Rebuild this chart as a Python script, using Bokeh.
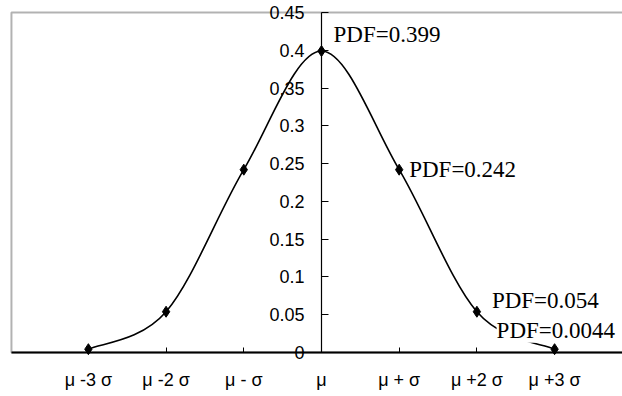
from bokeh.plotting import figure
from bokeh.models import FixedTicker, Label, Range1d, BoxAnnotation
from bokeh.embed import file_html
from bokeh.resources import INLINE

# ---- data ----
sigma = [-3, -2, -1, 0, 1, 2, 3]
pdf = [0.0044, 0.054, 0.242, 0.399, 0.242, 0.054, 0.0044]
x_tick_labels = ["\u03bc -3 \u03c3", "\u03bc -2 \u03c3", "\u03bc - \u03c3", "\u03bc",
                 "\u03bc + \u03c3", "\u03bc +2 \u03c3", "\u03bc +3 \u03c3"]
y_ticks = [0, 0.05, 0.1, 0.15, 0.2, 0.25, 0.3, 0.35, 0.4, 0.45]
y_tick_labels = ["0", "0.05", "0.1", "0.15", "0.2", "0.25", "0.3", "0.35", "0.4", "0.45"]
labelled_idx = [3, 4, 5, 6]
point_labels = ["PDF=0.399", "PDF=0.242", "PDF=0.054", "PDF=0.0044"]

# ---- layout constants (plot box) ----
X_START, X_END = -4.131, 3.874
Y_START, Y_END = -0.0582, 0.4659
BOX_LEFT = -3.99

p = figure(width=622, height=396, x_range=Range1d(X_START, X_END), y_range=Range1d(Y_START, Y_END),
           output_backend="svg", toolbar_location=None,
           min_border_left=0, min_border_right=0, min_border_top=0, min_border_bottom=0)
p.outline_line_color = None
p.grid.visible = False
p.background_fill_color = "white"

# plot box (top/left border; right side lies beyond the window)
p.add_layout(BoxAnnotation(left=BOX_LEFT, right=X_END + 5, bottom=y_ticks[0], top=y_ticks[-1],
                           fill_alpha=0, line_color="black", line_width=2, level="overlay"))

# y axis crossing at mu
ya = p.yaxis[0]
ya.fixed_location = 0
ya.bounds = (y_ticks[0], y_ticks[-1])
ya.ticker = FixedTicker(ticks=y_ticks)
ya.major_label_overrides = {t: s for t, s in zip(y_ticks, y_tick_labels)}
ya.major_tick_in = 7
ya.major_tick_out = 0
ya.minor_tick_in = 0
ya.minor_tick_out = 0
ya.axis_line_width = 1.2
ya.major_label_standoff = 17
ya.major_label_text_font = "Liberation Sans"
ya.major_label_text_font_size = "18px"
ya.major_label_text_color = "black"

# x axis at y = 0
xa = p.xaxis[0]
xa.fixed_location = 0
xa.bounds = (BOX_LEFT, X_END + 5)
xa.ticker = FixedTicker(ticks=sigma)
xa.major_label_overrides = {s: l for s, l in zip(sigma, x_tick_labels)}
xa.major_tick_in = 5
xa.major_tick_out = 0
xa.minor_tick_in = 0
xa.minor_tick_out = 0
xa.axis_line_width = 2
xa.major_label_standoff = 17
xa.major_label_text_font = "Liberation Sans"
xa.major_label_text_font_size = "18px"
xa.major_label_text_color = "black"

# smooth curve (Excel-style cubic Bezier through the points)
n = len(sigma)
x0s, y0s, x1s, y1s, cx0s, cy0s, cx1s, cy1s = [], [], [], [], [], [], [], []
for i in range(n - 1):
    a = max(i - 1, 0)
    d = min(i + 2, n - 1)
    x0s.append(sigma[i]); y0s.append(pdf[i])
    x1s.append(sigma[i + 1]); y1s.append(pdf[i + 1])
    cx0s.append(sigma[i] + (sigma[i + 1] - sigma[a]) / 6)
    cy0s.append(pdf[i] + (pdf[i + 1] - pdf[a]) / 6)
    cx1s.append(sigma[i + 1] - (sigma[d] - sigma[i]) / 6)
    cy1s.append(pdf[i + 1] - (pdf[d] - pdf[i]) / 6)
p.bezier(x0=x0s, y0=y0s, x1=x1s, y1=y1s, cx0=cx0s, cy0=cy0s, cx1=cx1s, cy1=cy1s,
         line_color="black", line_width=1.6)

p.scatter(sigma, pdf, marker="diamond", size=11, color="black")

# point labels
offsets = [(12, 17), (10, 0), (15, 11), (-58, 19)]
for k, (idx, txt) in enumerate(zip(labelled_idx, point_labels)):
    dx, dy = offsets[k]
    lab = Label(x=sigma[idx], y=pdf[idx], x_offset=dx, y_offset=dy, text=txt,
                text_font="Liberation Serif", text_font_size="23px",
                text_baseline="middle", text_align="left", text_color="black")
    if txt == "PDF=0.0044":
        lab.background_fill_color = "white"
    p.add_layout(lab)

open("out.html", "w").write(file_html(p, INLINE))
